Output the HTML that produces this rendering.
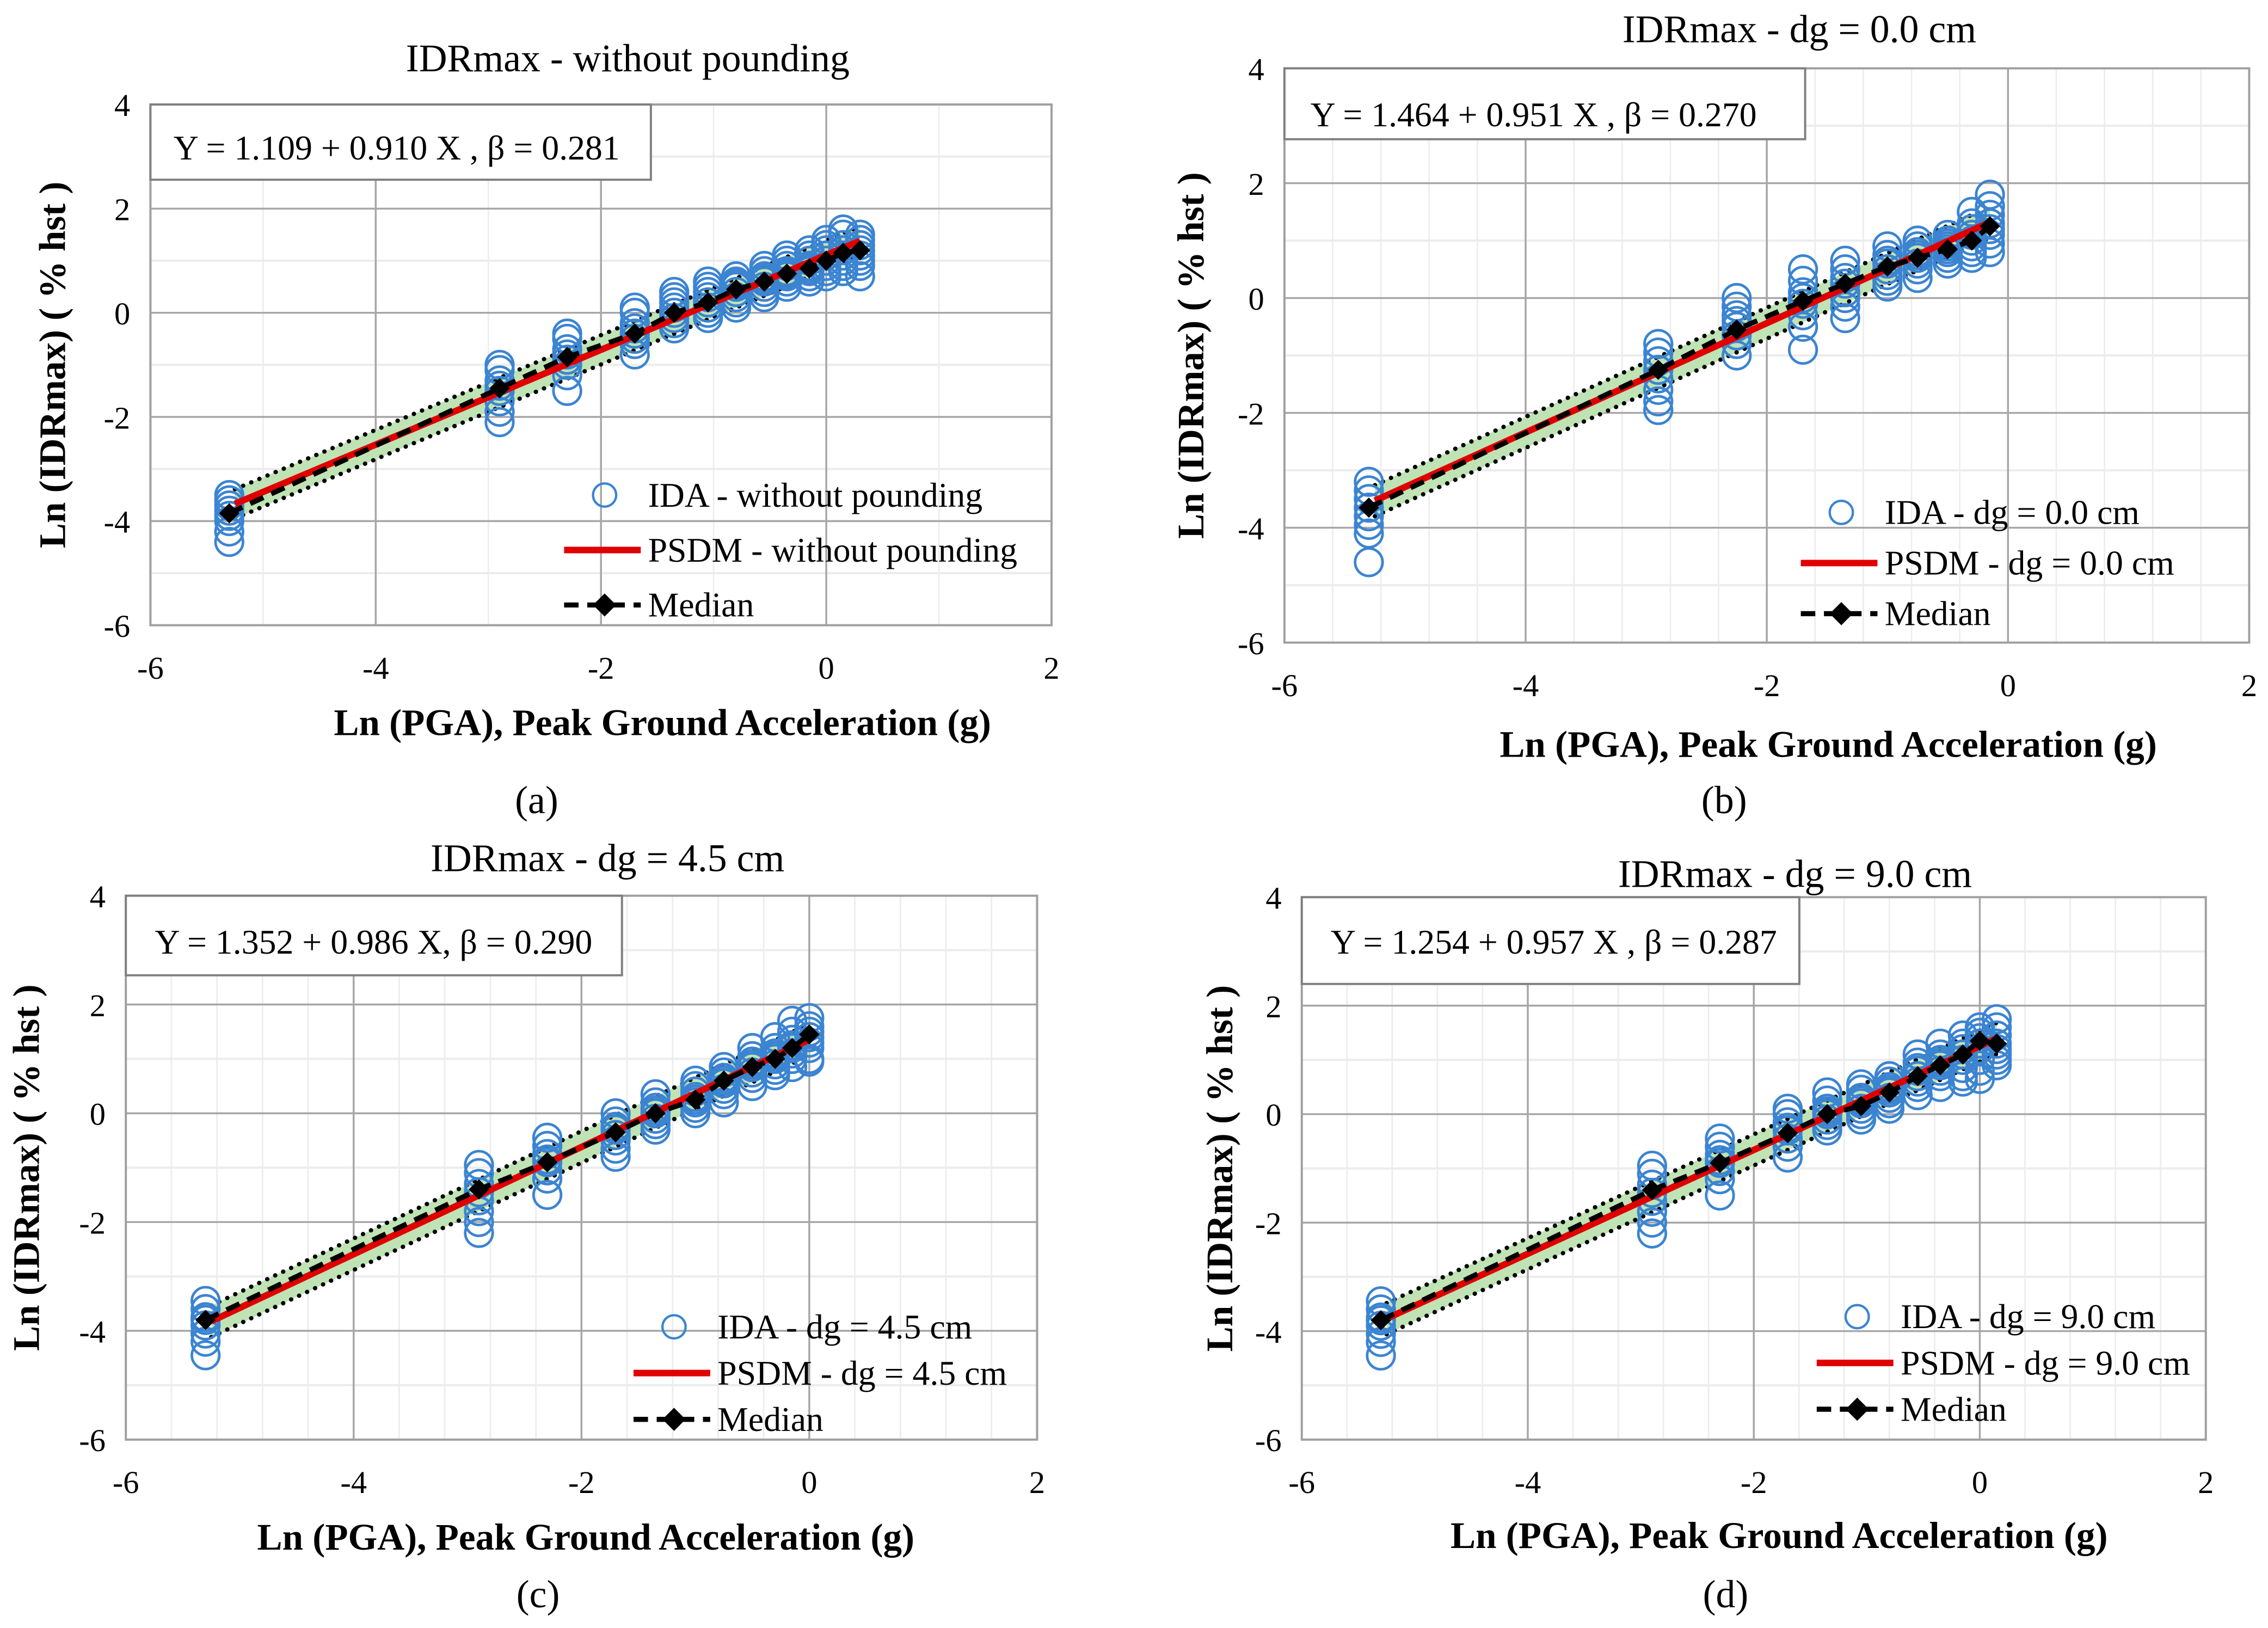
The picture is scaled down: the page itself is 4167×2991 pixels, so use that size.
<!DOCTYPE html>
<html><head><meta charset="utf-8"><style>
html,body{margin:0;padding:0;background:#fff;}
svg{display:block;font-family:"Liberation Serif",serif;}
</style></head><body>
<svg id="fig" width="4167" height="2991" viewBox="0 0 1568 1125" xmlns="http://www.w3.org/2000/svg"></svg>
<script>
// ---- Panel (a) data ----
const levelsA=[-5.3,-2.9,-2.3,-1.7,-1.35,-1.05,-0.8,-0.55,-0.35,-0.15,0,0.15,0.3];
const medianA=[-3.85,-1.45,-0.85,-0.4,0,0.2,0.45,0.6,0.75,0.85,1.0,1.15,1.2];
const idaA=[[-3.5,-3.6,-3.8,-3.9,-4.0,-4.2,-4.4,-3.7],[-1.0,-1.1,-1.3,-1.4,-1.5,-1.7,-1.9,-2.1],[-0.4,-0.5,-0.7,-0.9,-1.0,-1.2,-1.5,-0.8],[0.1,0.0,-0.2,-0.3,-0.5,-0.6,-0.8,-0.4],[0.4,0.3,0.1,0,-0.1,-0.2,-0.3,0.2],[0.6,0.5,0.3,0.2,0.1,0,-0.1,0.4],[0.7,0.6,0.5,0.4,0.3,0.2,0.1,0.55],[0.9,0.8,0.7,0.6,0.5,0.4,0.3,0.65],[1.1,1.0,0.9,0.8,0.7,0.6,0.5,0.75],[1.2,1.1,1.0,0.9,0.8,0.7,0.6,0.85],[1.4,1.3,1.2,1.0,0.9,0.8,0.7,1.1],[1.6,1.5,1.3,1.2,1.0,0.9,0.8,1.1],[1.5,1.4,1.3,1.2,1.1,1.0,0.9,0.7]];
const coefA=[1.109,0.910,0.281];
// ---- Panel (b) data ----
const levelsB=[-5.3,-2.9,-2.25,-1.7,-1.35,-1.0,-0.75,-0.5,-0.3,-0.15];
const medianB=[-3.65,-1.25,-0.55,-0.05,0.25,0.55,0.7,0.85,1.0,1.25];
const idaB=[[-3.2,-3.35,-3.5,-3.65,-3.8,-3.95,-4.1,-4.6],[-0.8,-0.95,-1.1,-1.25,-1.4,-1.6,-1.8,-1.95],[0,-0.15,-0.3,-0.5,-0.65,-0.8,-1.0,-0.4],[0.5,0.3,0.1,0,-0.1,-0.3,-0.5,-0.9],[0.65,0.5,0.35,0.25,0.1,0,-0.15,-0.35],[0.9,0.75,0.6,0.5,0.4,0.3,0.2,0.65],[1.0,0.9,0.8,0.7,0.6,0.5,0.35,0.75],[1.1,1.0,0.9,0.8,0.7,0.6,0.95,0.85],[1.5,1.3,1.1,1.0,0.9,0.8,0.7,1.2],[1.8,1.6,1.45,1.3,1.2,1.1,0.95,0.8]];
const coefB=[1.464,0.951,0.270];
// ---- Panel (c) data ----
const levelsC=[-5.3,-2.9,-2.3,-1.7,-1.35,-1.0,-0.75,-0.5,-0.3,-0.15,0];
const medianC=[-3.8,-1.4,-0.9,-0.35,0,0.25,0.6,0.85,1.0,1.2,1.45];
const idaC=[[-3.45,-3.6,-3.75,-3.9,-4.05,-4.2,-4.45,-3.8],[-0.95,-1.1,-1.3,-1.45,-1.6,-1.8,-2.0,-2.2],[-0.45,-0.6,-0.75,-0.9,-1.05,-1.2,-1.5,-0.85],[0.0,-0.15,-0.25,-0.4,-0.5,-0.65,-0.8,-0.3],[0.35,0.2,0.1,0,-0.1,-0.2,-0.3,0.05],[0.6,0.5,0.4,0.3,0.2,0.1,0,0.25],[0.85,0.75,0.65,0.55,0.45,0.35,0.2,0.6],[1.2,1.05,0.95,0.85,0.75,0.65,0.5,0.9],[1.4,1.2,1.1,1.0,0.9,0.8,0.7,1.05],[1.7,1.5,1.35,1.2,1.1,1.0,0.85,1.25],[1.75,1.6,1.5,1.4,1.3,1.2,1.0,0.95]];
const coefC=[1.352,0.986,0.290];
// ---- Panel (d) data ----
const levelsD=[-5.3,-2.9,-2.3,-1.7,-1.35,-1.05,-0.8,-0.55,-0.35,-0.15,0,0.15];
const medianD=[-3.8,-1.4,-0.9,-0.35,0,0.15,0.4,0.7,0.9,1.1,1.35,1.3];
const idaD=[[-3.45,-3.6,-3.75,-3.9,-4.05,-4.2,-4.45,-3.8],[-0.95,-1.1,-1.3,-1.45,-1.6,-1.8,-2.0,-2.2],[-0.45,-0.6,-0.75,-0.9,-1.05,-1.2,-1.5,-0.85],[0.1,0,-0.15,-0.3,-0.45,-0.6,-0.8,-0.25],[0.4,0.25,0.1,0,-0.1,-0.2,-0.3,0.05],[0.55,0.45,0.3,0.2,0.1,0,-0.1,0.25],[0.7,0.6,0.5,0.4,0.3,0.2,0.1,0.45],[1.1,0.95,0.85,0.7,0.6,0.5,0.35,0.8],[1.3,1.1,1.0,0.9,0.8,0.7,0.5,0.95],[1.45,1.3,1.2,1.1,1.0,0.85,0.7,0.6],[1.6,1.5,1.4,1.3,1.2,1.0,0.8,0.65],[1.75,1.6,1.45,1.3,1.2,1.1,1.0,0.9]];
const coefD=[1.254,0.957,0.287];
const xTicks=[-6,-4,-2,0,2];
const yTicks=[4,2,0,-2,-4,-6];

const NS="http://www.w3.org/2000/svg";
const svg=document.getElementById('fig');
function mk(tag,attrs,parent){const e=document.createElementNS(NS,tag);for(const k in attrs)e.setAttribute(k,attrs[k]);(parent||svg).appendChild(e);return e;}
function txt(s,attrs,parent){const e=mk('text',attrs,parent);e.textContent=s;return e;}

const panels=[
 {id:'a',lv:levelsA,md:medianA,ida:idaA,cf:coefA,x0:104,x1:727,y0:72,y1:432,minor:1,title:'IDRmax -  without pounding',tx:434,ty:49,box:[104,72,450,124],eq:'Y = 1.109 + 0.910 X , β = 0.281',eqx:120,eqy:110,ylx:45,xlx:458,xly:508,cap:[371,562],leg:[418,342,380,418],name:'without pounding'},
 {id:'b',lv:levelsB,md:medianB,ida:idaB,cf:coefB,x0:888,x1:1555,y0:47,y1:444,minor:0.4,title:'IDRmax - dg = 0.0 cm',tx:1244,ty:29,box:[888,47,1248,96],eq:'Y = 1.464 + 0.951 X , β = 0.270',eqx:906,eqy:87,ylx:832,xlx:1264,xly:523,cap:[1192,562],leg:[1273,354,389,424],name:'dg = 0.0 cm'},
 {id:'c',lv:levelsC,md:medianC,ida:idaC,cf:coefC,x0:87,x1:717,y0:619,y1:995,minor:0.4,title:'IDRmax - dg = 4.5 cm',tx:420,ty:602,box:[87,619,430,674],eq:'Y = 1.352 + 0.986 X, β = 0.290',eqx:107,eqy:659,ylx:27,xlx:405,xly:1071,cap:[372,1111],leg:[466,917,949,981],name:'dg = 4.5 cm'},
 {id:'d',lv:levelsD,md:medianD,ida:idaD,cf:coefD,x0:900,x1:1525,y0:620,y1:995,minor:0.4,title:'IDRmax - dg = 9.0 cm',tx:1241,ty:613,box:[900,620,1244,680],eq:'Y = 1.254 + 0.957 X , β = 0.287',eqx:920,eqy:659,ylx:852,xlx:1230,xly:1070,cap:[1193,1111],leg:[1284,910,942,974],name:'dg = 9.0 cm'}
];

panels.forEach(p=>{
 const g=mk('g',{});
 
 
 const X=v=>p.x0+(v+6)/8*(p.x1-p.x0);
 const Y=v=>p.y0+(4-v)/10*(p.y1-p.y0);
 for(let v=-6+p.minor;v<2-1e-6;v+=p.minor){const l=mk('line',{x1:X(v),x2:X(v),y1:p.y0,y2:p.y1,stroke:'#ececec','stroke-width':1},g);}
 for(let v=-5;v<4;v+=2){const l=mk('line',{x1:p.x0,x2:p.x1,y1:Y(v),y2:Y(v),stroke:'#ececec','stroke-width':1.5},g);}
 xTicks.forEach(v=>{const l=mk('line',{x1:X(v),x2:X(v),y1:p.y0,y2:p.y1,stroke:'#a6a6a6','stroke-width':1.3},g);
  const t=txt(String(v),{x:X(v),y:p.y1+37,'font-size':22,'text-anchor':'middle'},g);});
 yTicks.forEach(v=>{const l=mk('line',{x1:p.x0,x2:p.x1,y1:Y(v),y2:Y(v),stroke:'#a6a6a6','stroke-width':1.3},g);
  const t=txt(String(v),{x:p.x0-14,y:Y(v)+8,'font-size':22,'text-anchor':'end'},g);});
 const fr=mk('rect',{x:p.x0,y:p.y0,width:p.x1-p.x0,height:p.y1-p.y0,fill:'none',stroke:'#a0a0a0','stroke-width':1.5},g);
 
 const xa=p.lv[0]+0.05, xb=p.lv[p.lv.length-1];
 const a=p.cf[0],b=p.cf[1],be=p.cf[2];
 const band=mk('polygon',{points:[[X(xa),Y(a+b*xa+be)],[X(xb),Y(a+b*xb+be)],[X(xb),Y(a+b*xb-be)],[X(xa),Y(a+b*xa-be)]].map(q=>q.join(',')).join(' '),fill:'#bfe3b4'},g);
 
 [be,-be].forEach(o=>{const l=mk('line',{x1:X(xa),y1:Y(a+b*xa+o),x2:X(xb),y2:Y(a+b*xb+o),stroke:'#000','stroke-width':3,'stroke-dasharray':'0.1 6','stroke-linecap':'round'},g);});
 p.lv.forEach((xv,i)=>{p.ida[i].forEach(yv=>{const c=mk('circle',{cx:X(xv),cy:Y(yv),r:9.5,fill:'none',stroke:'#3b84d2','stroke-width':1.8},g);});});
 const ps=mk('line',{x1:X(xa),y1:Y(a+b*xa),x2:X(xb),y2:Y(a+b*xb),stroke:'#e00000','stroke-width':4.5},g);
 
 const md=mk('polyline',{points:p.lv.map((xv,i)=>X(xv)+','+Y(p.md[i])).join(' '),fill:'none',stroke:'#000','stroke-width':3.5,'stroke-dasharray':'10 6'},g);
 
 p.lv.forEach((xv,i)=>{const cx=X(xv),cy=Y(p.md[i]);const d=mk('polygon',{points:`${cx},${cy-7} ${cx+7},${cy} ${cx},${cy+7} ${cx-7},${cy}`,fill:'#000'},g);});
 const bx=mk('rect',{x:p.box[0],y:p.box[1],width:p.box[2]-p.box[0],height:p.box[3]-p.box[1],fill:'#fff',stroke:'#808080','stroke-width':1.5},g);
 
 const eq=txt(p.eq,{x:p.eqx,y:p.eqy,'font-size':24},g);
 const t=txt(p.title,{x:p.tx,y:p.ty,'font-size':27,'text-anchor':'middle'},g);
 const yc=(p.y0+p.y1)/2;
 const yl=txt('Ln (IDRmax) ( % hst )',{x:p.ylx,y:yc,'font-size':26,'font-weight':'bold','text-anchor':'middle',transform:`rotate(-90 ${p.ylx} ${yc})`},g);
 const xl=txt('Ln (PGA), Peak Ground Acceleration (g)',{x:p.xlx,y:p.xly,'font-size':26,'font-weight':'bold','text-anchor':'middle'},g);
 const cp=txt('('+p.id+')',{x:p.cap[0],y:p.cap[1],'font-size':27,'text-anchor':'middle'},g);
 const [lx,ly1,ly2,ly3]=p.leg;
 const lc=mk('circle',{cx:lx,cy:ly1,r:8,fill:'none',stroke:'#3b84d2','stroke-width':1.6},g);
 const t1=txt('IDA - '+p.name,{x:lx+30,y:ly1+8,'font-size':24},g);
 const lr=mk('line',{x1:lx-28,x2:lx+25,y1:ly2,y2:ly2,stroke:'#e00000','stroke-width':4.5},g);
 const t2=txt('PSDM - '+p.name,{x:lx+30,y:ly2+8,'font-size':24},g);
 const lm=mk('line',{x1:lx-28,x2:lx+25,y1:ly3,y2:ly3,stroke:'#000','stroke-width':3.5,'stroke-dasharray':'10 6'},g);
 const ld=mk('polygon',{points:`${lx},${ly3-8} ${lx+8},${ly3} ${lx},${ly3+8} ${lx-8},${ly3}`,fill:'#000'},g);
 const t3=txt('Median',{x:lx+30,y:ly3+8,'font-size':24},g);
});
</script>
</body></html>
